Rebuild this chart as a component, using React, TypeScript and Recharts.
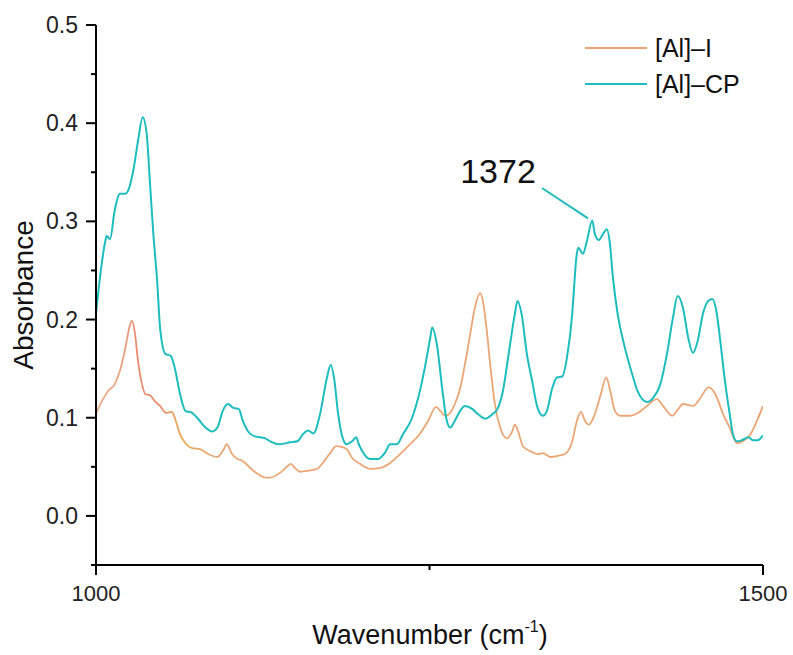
import React from 'react';
import { LineChart, Line, XAxis, YAxis, ReferenceLine } from 'recharts';

// [Al]–I trace (orange)
const iWavenumber = [
  1000, 1004.5, 1009, 1014, 1018, 1022, 1025, 1027, 1029, 1031.5, 1034.5, 1037, 1040.5, 1044, 1048,
  1052.5, 1057, 1059, 1063, 1067, 1072, 1078, 1084, 1091, 1095, 1098, 1102, 1106, 1110, 1115.5, 1121,
  1127, 1130.5, 1138, 1143, 1146, 1149, 1153, 1159, 1166, 1170, 1175.5, 1180, 1184.5, 1188, 1192, 1198,
  1205.5, 1213, 1220.5, 1228, 1235.5, 1243, 1249, 1255, 1258, 1262, 1265.5, 1269, 1273, 1276.5, 1280.5,
  1284, 1288, 1290, 1293, 1295.5, 1299, 1303, 1308, 1312, 1314, 1316.5, 1320, 1325.5, 1331, 1335,
  1340.5, 1345.5, 1351.5, 1357, 1360.5, 1363.5, 1366.5, 1369.5, 1374, 1378, 1382.5, 1385.5, 1389, 1393,
  1400.5, 1406.5, 1413, 1420.5, 1425, 1432, 1436.5, 1440, 1447.5, 1453, 1459, 1464, 1470, 1475, 1480.5,
  1485, 1490.5, 1495.5, 1500,
];
const iAbsorbance = [
  0.104, 0.117, 0.127, 0.134, 0.148, 0.171, 0.192, 0.199, 0.188, 0.158, 0.134, 0.124, 0.123, 0.117, 0.112,
  0.105, 0.106, 0.1, 0.083, 0.074, 0.069, 0.068, 0.063, 0.06, 0.066, 0.073, 0.063, 0.058, 0.056, 0.049, 0.043,
  0.039, 0.039, 0.044, 0.05, 0.053, 0.049, 0.045, 0.046, 0.048, 0.054, 0.064, 0.071, 0.07, 0.068, 0.059, 0.053,
  0.048, 0.049, 0.054, 0.063, 0.073, 0.084, 0.097, 0.111, 0.107, 0.102, 0.105, 0.114, 0.13, 0.154, 0.185,
  0.212, 0.227, 0.219, 0.188, 0.154, 0.114, 0.09, 0.079, 0.086, 0.093, 0.086, 0.071, 0.066, 0.063, 0.064,
  0.06, 0.061, 0.063, 0.076, 0.097, 0.106, 0.097, 0.093, 0.104, 0.122, 0.141, 0.127, 0.107, 0.102,
  0.102, 0.105, 0.112, 0.119, 0.112, 0.102, 0.109, 0.114, 0.112, 0.12, 0.131, 0.125, 0.104, 0.09, 0.074,
  0.076, 0.083, 0.097, 0.112,
];

// [Al]–CP trace (cyan)
const cpWavenumber = [
  1000, 1003, 1007, 1008, 1010.5, 1014, 1018, 1022, 1024, 1028, 1031.5, 1035, 1038, 1040.5, 1043, 1046,
  1048, 1052, 1056, 1059, 1063, 1067, 1072, 1076.5, 1082, 1087, 1091, 1095, 1099, 1103, 1107, 1110, 1114,
  1119, 1127, 1130.5, 1138, 1145.5, 1151, 1155, 1159, 1163, 1168, 1173, 1176, 1178.5, 1181.5, 1185, 1188,
  1192, 1195, 1197, 1201, 1205.5, 1211.5, 1216.5, 1220.5, 1225.5, 1230, 1237, 1241.5, 1246.5, 1250.5,
  1252, 1255.5, 1259.5, 1262.5, 1265.5, 1269, 1273, 1276.5, 1282, 1286, 1292, 1297.5, 1301, 1305, 1310,
  1314, 1316, 1319, 1323, 1327, 1331, 1335, 1338, 1342, 1345.5, 1349.5, 1353, 1357, 1358.5, 1360, 1361.5,
  1365, 1368, 1372, 1374, 1377, 1380, 1383, 1385, 1387.5, 1391, 1396.5, 1402, 1406, 1413, 1417.5, 1423,
  1428, 1432.5, 1436, 1440, 1444, 1447.5, 1451, 1455, 1459, 1462, 1465, 1468, 1471.5, 1475, 1477.5,
  1480.5, 1484, 1489, 1492.5, 1496, 1500,
];
const cpAbsorbance = [
  0.206, 0.243, 0.28, 0.285, 0.282, 0.311, 0.328, 0.328, 0.331, 0.352, 0.382, 0.406, 0.389, 0.338, 0.287, 0.236,
  0.192, 0.165, 0.163, 0.151, 0.124, 0.107, 0.105, 0.099, 0.09, 0.086, 0.09, 0.107, 0.114, 0.11, 0.109, 0.097, 0.086,
  0.081, 0.079, 0.076, 0.073, 0.075, 0.076, 0.083, 0.087, 0.084, 0.104, 0.14, 0.154, 0.14, 0.104, 0.079, 0.073,
  0.076, 0.08, 0.073, 0.063, 0.058, 0.058, 0.064, 0.073, 0.073, 0.083, 0.1, 0.12, 0.151, 0.181,
  0.192, 0.175, 0.13, 0.1, 0.09, 0.097, 0.107, 0.112, 0.109, 0.104, 0.099, 0.104, 0.109, 0.127, 0.171,
  0.206, 0.219, 0.206, 0.165, 0.137, 0.11, 0.102, 0.107, 0.13, 0.141, 0.142, 0.161, 0.206, 0.235, 0.262, 0.273,
  0.267, 0.28, 0.301, 0.287, 0.281, 0.287, 0.292, 0.28, 0.243, 0.206, 0.171, 0.144, 0.127, 0.116, 0.12, 0.134,
  0.165, 0.202, 0.224, 0.212, 0.181, 0.166, 0.178, 0.206, 0.219, 0.221, 0.209, 0.178, 0.137, 0.104, 0.083,
  0.076, 0.077, 0.08, 0.077, 0.077, 0.082,
];

const xTicks = [1000, 1250, 1500];
const xLabels = [1000, 1500];
const yTicks = [-0.05, 0, 0.05, 0.1, 0.15, 0.2, 0.25, 0.3, 0.35, 0.4, 0.45, 0.5];

const ORANGE = '#EAA573';
const CYAN = '#1DBDBE';
const FONT = '"Liberation Sans", Arial, sans-serif';

const iData = iWavenumber.map((w, i) => ({ w, a: iAbsorbance[i] }));
const cpData = cpWavenumber.map((w, i) => ({ w, a: cpAbsorbance[i] }));

function YTick(props: any) {
  const { x, y, payload } = props;
  const v = payload.value;
  const major = Math.abs(v * 10 - Math.round(v * 10)) < 1e-6;
  return (
    <g>
      <line x1={x - (major ? 10 : 5)} x2={x} y1={y} y2={y} stroke="#000" strokeWidth={2} />
      {major && (
        <text x={x - 18} y={y + 8} textAnchor="end" fontSize={23} fontFamily={FONT} fill="#222">
          {v.toFixed(1)}
        </text>
      )}
    </g>
  );
}

function XTick(props: any) {
  const { x, y, payload } = props;
  const v = payload.value;
  const major = v % 500 === 0;
  return (
    <g>
      <line x1={x} x2={x} y1={y} y2={y + (major ? 10 : 5)} stroke="#000" strokeWidth={2} />
      {xLabels.includes(v) && (
        <text x={x} y={y + 36} textAnchor="middle" fontSize={22} fontFamily={FONT} fill="#222">
          {v}
        </text>
      )}
    </g>
  );
}

export default function App() {
  return (
    <div style={{ position: 'absolute', left: 0, top: 0, width: 793, height: 655, background: '#fff' }}>
      <LineChart width={793} height={655} margin={{ top: 25, right: 30, bottom: 50, left: 0 }}>
        <defs>
          <linearGradient id="orangeGrad" x1="0" y1="0" x2="1" y2="0">
            <stop offset="0" stopColor="#EAB08C" />
            <stop offset="0.04" stopColor="#E9A383" />
            <stop offset="0.06" stopColor="#E98C72" />
            <stop offset="0.1" stopColor="#E99272" />
            <stop offset="0.13" stopColor="#E9AA52" />
            <stop offset="0.18" stopColor="#E9A878" />
            <stop offset="1" stopColor={ORANGE} />
          </linearGradient>
        </defs>
        <XAxis
          dataKey="w"
          type="number"
          domain={[1000, 1500]}
          ticks={xTicks}
          height={40}
          axisLine={{ stroke: '#000', strokeWidth: 2 }}
          tickLine={false}
          tickSize={0}
          tickMargin={0}
          tick={<XTick />}
          allowDataOverflow
        />
        <YAxis
          type="number"
          domain={[-0.05, 0.5]}
          ticks={yTicks}
          width={96}
          axisLine={{ stroke: '#000', strokeWidth: 2 }}
          tickLine={false}
          tickSize={0}
          tickMargin={0}
          tick={<YTick />}
          allowDataOverflow
        />
        <Line
          data={iData}
          dataKey="a"
          type="monotone"
          stroke="url(#orangeGrad)"
          strokeWidth={1.8}
          dot={false}
          activeDot={false}
          isAnimationActive={false}
        />
        <Line
          data={cpData}
          dataKey="a"
          type="monotone"
          stroke={CYAN}
          strokeWidth={2}
          dot={false}
          activeDot={false}
          isAnimationActive={false}
        />
        <ReferenceLine
          segment={[
            { x: 1334.3, y: 0.334 },
            { x: 1368.8, y: 0.303 },
          ]}
          stroke={CYAN}
          strokeWidth={2}
        />
        <text x={498} y={183} textAnchor="middle" fontSize={34} fontFamily={FONT} fill="#111">
          1372
        </text>
        <text
          transform="rotate(-90)"
          x={-295}
          y={33}
          textAnchor="middle"
          fontSize={28}
          fontFamily={FONT}
          fill="#111"
        >
          Absorbance
        </text>
        <text x={430} y={644} textAnchor="middle" fontSize={27} fontFamily={FONT} fill="#111">
          Wavenumber (cm
          <tspan dy={-12} fontSize={16}>
            -1
          </tspan>
          <tspan dy={12}>)</tspan>
        </text>
        <line x1={585} x2={647} y1={48} y2={48} stroke={ORANGE} strokeWidth={2} />
        <text x={655} y={57} fontSize={25} fontFamily={FONT} fill="#111">
          [Al]–I
        </text>
        <line x1={585} x2={647} y1={84} y2={84} stroke={CYAN} strokeWidth={2} />
        <text x={655} y={93} fontSize={25} fontFamily={FONT} fill="#111">
          [Al]–CP
        </text>
      </LineChart>
    </div>
  );
}
